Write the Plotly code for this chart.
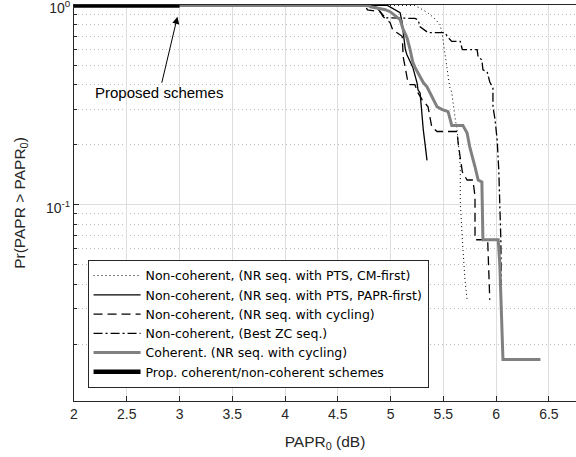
import plotly.graph_objects as go

# PAPR threshold (dB) and CCDF values for each scheme
cm_first_x = [2.0, 5.23, 5.28, 5.35, 5.41, 5.47, 5.49, 5.50, 5.52, 5.535, 5.545, 5.56,
              5.58, 5.59, 5.61, 5.63, 5.64, 5.66, 5.66, 5.68, 5.705, 5.725]
cm_first_y = [1.0, 1.0, 0.967, 0.92, 0.867, 0.80, 0.71, 0.65, 0.58, 0.49, 0.44, 0.39,
              0.365, 0.325, 0.275, 0.237, 0.212, 0.155, 0.105, 0.0667, 0.042, 0.0333]

papr_first_x = [2.0, 4.97, 5.09, 5.11, 5.12, 5.14, 5.155, 5.21, 5.25, 5.26, 5.28, 5.30,
                5.31, 5.33, 5.345]
papr_first_y = [1.0, 1.0, 0.92, 0.82, 0.73, 0.60, 0.565, 0.49, 0.41, 0.377, 0.364, 0.267,
                0.237, 0.195, 0.167]

cycling_x = [2.0, 4.76, 4.78, 4.90, 4.93, 4.995, 5.02, 5.11, 5.12, 5.165, 5.185, 5.23,
             5.26, 5.30, 5.355, 5.375, 5.39, 5.44, 5.63, 5.64, 5.66, 5.68, 5.725, 5.78,
             5.80, 5.80, 5.92, 5.94]
cycling_y = [1.0, 1.0, 0.95, 0.93, 0.877, 0.82, 0.755, 0.70, 0.55, 0.41, 0.40, 0.40,
             0.364, 0.336, 0.31, 0.272, 0.246, 0.233, 0.233, 0.204, 0.167, 0.146, 0.133,
             0.133, 0.11, 0.0667, 0.0667, 0.0333]

zc_x = [2.0, 4.85, 4.95, 5.23, 5.26, 5.28, 5.355, 5.515, 5.545, 5.58, 5.66, 5.68, 5.82,
        5.83, 5.865, 5.875, 5.915, 5.94, 5.97, 5.97, 5.99, 6.01, 6.025, 6.035, 6.045, 6.05]
zc_y = [1.0, 1.0, 0.867, 0.86, 0.848, 0.78, 0.73, 0.73, 0.69, 0.66, 0.66, 0.60, 0.60,
        0.55, 0.533, 0.475, 0.465, 0.413, 0.385, 0.31, 0.267, 0.211, 0.15, 0.105, 0.0667,
        0.0333]

coherent_x = [2.0, 4.79, 4.81, 4.95, 4.995, 5.09, 5.12, 5.155, 5.185, 5.21, 5.23, 5.28,
              5.31, 5.345, 5.39, 5.44, 5.49, 5.545, 5.58, 5.685, 5.725, 5.75, 5.80, 5.83,
              5.865, 5.875, 6.02, 6.035, 6.065, 6.42]
coherent_y = [1.0, 1.0, 0.985, 0.952, 0.93, 0.848, 0.755, 0.69, 0.60, 0.52, 0.49, 0.44,
              0.41, 0.39, 0.35, 0.31, 0.30, 0.293, 0.25, 0.25, 0.229, 0.195, 0.155, 0.133,
              0.13, 0.0667, 0.0667, 0.05, 0.0167, 0.0167]

proposed_x = [2.0, 3.0]
proposed_y = [1.0, 1.0]

x_ticks = [2, 2.5, 3, 3.5, 4, 4.5, 5, 5.5, 6, 6.5]
y_ticks = [0.1, 1]
y_tick_text = ["10<sup>-1</sup>", "10<sup>0</sup>"]
y_minor = [0.02, 0.03, 0.04, 0.05, 0.06, 0.07, 0.08, 0.09,
           0.2, 0.3, 0.4, 0.5, 0.6, 0.7, 0.8, 0.9]

FONT = "Liberation Sans, Arial, sans-serif"
LEGEND_FONT = "DejaVu Sans, Liberation Sans, sans-serif"
AXIS = "#262626"

fig = go.Figure()
fig.add_trace(go.Scatter(x=cm_first_x, y=cm_first_y, mode="lines",
                         name="Non-coherent, (NR seq. with PTS, CM-first)",
                         line=dict(color="black", width=1, dash="1px,3px")))
fig.add_trace(go.Scatter(x=papr_first_x, y=papr_first_y, mode="lines",
                         name="Non-coherent, (NR seq. with PTS, PAPR-first)",
                         line=dict(color="black", width=1.3)))
fig.add_trace(go.Scatter(x=cycling_x, y=cycling_y, mode="lines",
                         name="Non-coherent, (NR seq. with cycling)",
                         line=dict(color="black", width=1.3, dash="9px,5px")))
fig.add_trace(go.Scatter(x=zc_x, y=zc_y, mode="lines",
                         name="Non-coherent, (Best ZC seq.)",
                         line=dict(color="black", width=1.3, dash="9px,3px,2px,3px")))
fig.add_trace(go.Scatter(x=coherent_x, y=coherent_y, mode="lines",
                         name="Coherent. (NR seq. with cycling)",
                         line=dict(color="#808080", width=3)))
fig.add_trace(go.Scatter(x=proposed_x, y=proposed_y, mode="lines",
                         name="Prop. coherent/non-coherent schemes",
                         line=dict(color="black", width=4.5)))

fig.add_annotation(x=2.98, y=-0.057, xref="x", yref="y",
                   text="Proposed schemes", showarrow=True,
                   ax=-18, ay=76, arrowhead=2, arrowsize=1.4, arrowwidth=1,
                   arrowcolor="black", standoff=0,
                   font=dict(family=FONT, size=15, color="black"))

fig.update_xaxes(range=[2, 6.757], tickvals=x_ticks, ticktext=[f"{v:g}" for v in x_ticks],
                 ticks="inside", ticklen=5, tickcolor=AXIS, automargin=False,
                 showline=True, linecolor=AXIS, linewidth=1, mirror=True,
                 showgrid=True, gridcolor="#dedede", gridwidth=1, zeroline=False,
                 tickfont=dict(family=FONT, size=14, color=AXIS),
                 title=dict(text="PAPR<sub>0</sub> (dB)", standoff=15,
                            font=dict(family=FONT, size=15.5, color=AXIS)))
fig.update_yaxes(type="log", range=[-1.985, 0.002], tickvals=y_ticks, ticktext=y_tick_text,
                 ticks="inside", ticklen=5, tickcolor=AXIS, ticklabeloverflow="allow",
                 ticklabelshift=3, automargin=False,
                 showline=True, linecolor=AXIS, linewidth=1, mirror=False,
                 showgrid=True, gridcolor="#dedede", gridwidth=1, zeroline=False,
                 minor=dict(tickvals=y_minor, ticks="inside", ticklen=3, tickcolor=AXIS,
                            showgrid=True, gridcolor="#bdbdbd", griddash="1px,3px",
                            gridwidth=1),
                 tickfont=dict(family=FONT, size=14, color=AXIS),
                 title=dict(text="Pr(PAPR > PAPR<sub>0</sub>)", standoff=16,
                            font=dict(family=FONT, size=15.5, color=AXIS)))

fig.update_layout(
    width=576, height=457,
    margin=dict(l=74, r=0, t=5, b=56),
    plot_bgcolor="white", paper_bgcolor="white",
    legend=dict(x=0.027, y=0.033, xanchor="left", yanchor="bottom",
                bgcolor="white", bordercolor=AXIS, borderwidth=1,
                itemwidth=47,
                font=dict(family=LEGEND_FONT, size=12.5, color="black"),
                tracegroupgap=0),
)

fig.write_html("out.html")
